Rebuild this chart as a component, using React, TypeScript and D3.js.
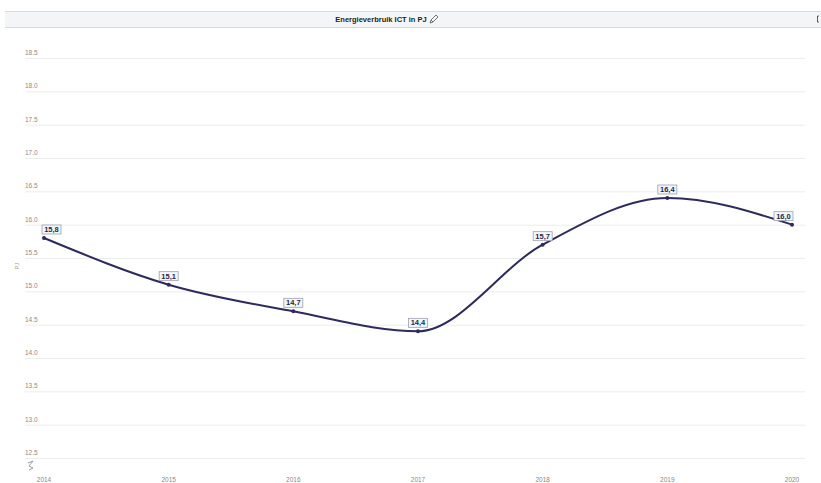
import React from "react";
import * as d3 from "d3";

const years = ["2014", "2015", "2016", "2017", "2018", "2019", "2020"];
const values = [15.8, 15.1, 14.7, 14.4, 15.7, 16.4, 16.0];
const yTicks = [12.5, 13.0, 13.5, 14.0, 14.5, 15.0, 15.5, 16.0, 16.5, 17.0, 17.5, 18.0, 18.5];
const title = "Energieverbruik ICT in PJ";
const yLabel = "PJ";

export default function App() {
  const W = 821, H = 483;
  const x = d3.scalePoint<string>().domain(years).range([44, 792]);
  const y = d3.scaleLinear().domain([12.5, 18.5]).range([458, 58]);
  const line = d3
    .line<number>()
    .x((_, i) => x(years[i]) as number)
    .y((d) => y(d))
    .curve(d3.curveMonotoneX);
  const font = "'Liberation Sans', Arial, sans-serif";
  const boxW = 19, boxH = 9;
  return (
    <svg width={W} height={H} style={{ position: "absolute", left: 0, top: 0, background: "#fff" }} fontFamily={font}>
      {/* header */}
      <rect x={5} y={11} width={816} height={17} fill="#f4f5f7" />
      <line x1={5} x2={821} y1={11.5} y2={11.5} stroke="#d8dbe0" />
      <line x1={5} x2={821} y1={27.5} y2={27.5} stroke="#d8dbe0" />
      <text x={381} y={22} textAnchor="middle" fontSize={7.5} fontWeight="bold" fill="#222">{title}</text>
      <g transform="translate(429,15)" stroke="#555" strokeWidth={0.8} fill="none">
        <path d="M1,8 L2,5 L7,0 L9,2 L4,7 Z" />
        <path d="M2,5 L4,7" />
      </g>
      <path d="M819,16 L817.5,16 L817.5,22 L819,22" stroke="#333" fill="none" strokeWidth={0.8} />
      {/* grid + y ticks */}
      {yTicks.map((t) => (
        <g key={t}>
          <line x1={25} x2={805} y1={y(t) + 0.5} y2={y(t) + 0.5} stroke="#ececec" />
          <text x={25} y={y(t) - 3} fontSize={6.5} fill="#8a8a8a">{t.toFixed(1)}</text>
        </g>
      ))}
      <text transform={`translate(19,266) rotate(-90)`} textAnchor="middle" fontSize={5.5} fill="#999">{yLabel}</text>
      {/* axis break symbol */}
      <path d="M28,463 L33,461 L29,466 L33,468 L29,470" stroke="#888" strokeWidth={0.8} fill="none" />
      {/* x labels */}
      {years.map((yr) => (
        <text key={yr} x={x(yr) as number} y={482} textAnchor="middle" fontSize={6.5} fill="#888">{yr}</text>
      ))}
      {/* line */}
      <path d={line(values) || ""} fill="none" stroke="#2d2a5c" strokeWidth={2} />
      {values.map((v, i) => {
        const px = x(years[i]) as number;
        const py = y(v);
        let bx = px - boxW / 2;
        bx = Math.max(42, Math.min(bx, 793 - boxW));
        return (
          <g key={i}>
            <circle cx={px} cy={py} r={2} fill="#2d2a5c" />
            <rect x={bx} y={py - 13} width={boxW} height={boxH} fill="#f3f6fb" stroke="#9aa0b0" strokeWidth={0.8} />
            <text x={bx + boxW / 2} y={py - 6} textAnchor="middle" fontSize={7.5} fontWeight="bold" fill="#1f2a44">
              {v.toFixed(1).replace(".", ",")}
            </text>
          </g>
        );
      })}
    </svg>
  );
}
